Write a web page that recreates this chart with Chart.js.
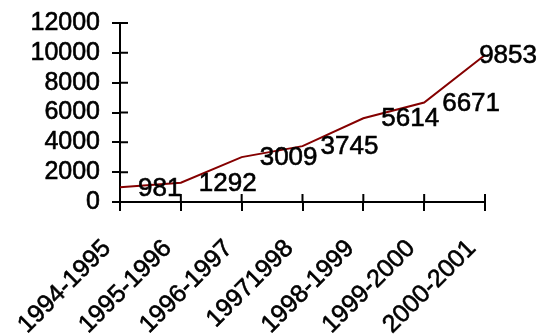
<!DOCTYPE html>
<html>
<head>
<meta charset="utf-8">
<script src="https://cdn.jsdelivr.net/npm/chart.js@4.4.1/dist/chart.umd.min.js"></script>
<style>
  html, body { margin: 0; padding: 0; background: #fff; }
  #wrap { width: 551px; height: 334px; }
</style>
</head>
<body>
<div id="wrap"><canvas id="chart"></canvas></div>
<script>
const seasons = ['1994-1995', '1995-1996', '1996-1997', '19971998', '1998-1999', '1999-2000', '2000-2001'];
const counts = [981, 1292, 3009, 3745, 5614, 6671, 9853];
const yTicks = [0, 2000, 4000, 6000, 8000, 10000, 12000];

const FONT = "'Liberation Sans', Arial, sans-serif";

// tick marks that cross the axis line (inner half; outer half is the grid tick)
const innerTicks = {
  id: 'innerTicks',
  afterDraw: (chart) => {
    const ctx = chart.ctx;
    const x = chart.scales.x;
    const y = chart.scales.y;
    ctx.save();
    ctx.strokeStyle = '#000';
    ctx.lineWidth = 2;
    ctx.beginPath();
    x.ticks.forEach((t, i) => {
      const px = x.getPixelForTick(i);
      ctx.moveTo(px, x.top);
      ctx.lineTo(px, x.top - 8);
    });
    y.ticks.forEach((t, i) => {
      const py = y.getPixelForTick(i);
      ctx.moveTo(y.right, py);
      ctx.lineTo(y.right + 8, py);
    });
    ctx.stroke();
    ctx.restore();
  },
};

// value labels to the right of each point
const valueLabels = {
  id: 'valueLabels',
  afterDatasetsDraw: (chart) => {
    const ctx = chart.ctx;
    const meta = chart.getDatasetMeta(0);
    ctx.save();
    ctx.font = `26px ${FONT}`;
    ctx.fillStyle = '#000';
    ctx.strokeStyle = '#000';
    ctx.lineWidth = 0.6;
    ctx.textAlign = 'left';
    ctx.textBaseline = 'middle';
    meta.data.forEach((pt, i) => {
      const text = String(counts[i]);
      const w = ctx.measureText(text).width;
      let lx = pt.x + 18;
      if (lx + w > chart.width - 14) {
        lx = chart.width - 14 - w;
      }
      ctx.fillText(text, lx, pt.y + 1);
      ctx.strokeText(text, lx, pt.y + 1);
    });
    ctx.restore();
  },
};

new Chart(document.getElementById('chart'), {
  type: 'line',
  data: {
    labels: seasons,
    datasets: [
      {
        data: counts,
        borderColor: '#850000',
        borderWidth: 2,
        pointRadius: 0,
        tension: 0,
        fill: false,
      },
    ],
  },
  plugins: [innerTicks, valueLabels],
  options: {
    responsive: true,
    maintainAspectRatio: false,
    animation: false,
    layout: {
      padding: { top: 23, right: 66, left: 0, bottom: 0 },
    },
    plugins: {
      legend: { display: false },
      tooltip: { enabled: false },
    },
    scales: {
      x: {
        offset: false,
        grid: {
          drawOnChartArea: false,
          drawTicks: true,
          tickLength: 9,
          color: '#000',
          lineWidth: 2,
        },
        border: { color: '#000', width: 2 },
        ticks: {
          color: '#000',
          textStrokeColor: '#000',
          textStrokeWidth: 0.6,
          font: { family: FONT, size: 25 },
          minRotation: 45,
          maxRotation: 45,
          autoSkip: false,
          padding: 23,
          labelOffset: -13,
        },
        afterFit: (scale) => {
          scale.height = 132;
        },
      },
      y: {
        min: 0,
        max: 12000,
        afterBuildTicks: (scale) => {
          scale.ticks = yTicks.map((v) => ({ value: v }));
        },
        grid: {
          drawOnChartArea: false,
          drawTicks: true,
          tickLength: 8,
          color: '#000',
          lineWidth: 2,
        },
        border: { color: '#000', width: 2 },
        ticks: {
          color: '#000',
          textStrokeColor: '#000',
          textStrokeWidth: 0.6,
          font: { family: FONT, size: 25 },
          padding: 12,
          autoSkip: false,
          callback: (v) => String(v),
        },
        afterFit: (scale) => {
          scale.width = 120;
          scale.paddingTop = 0;
          scale.paddingBottom = 0;
        },
      },
    },
  },
});
</script>
</body>
</html>
